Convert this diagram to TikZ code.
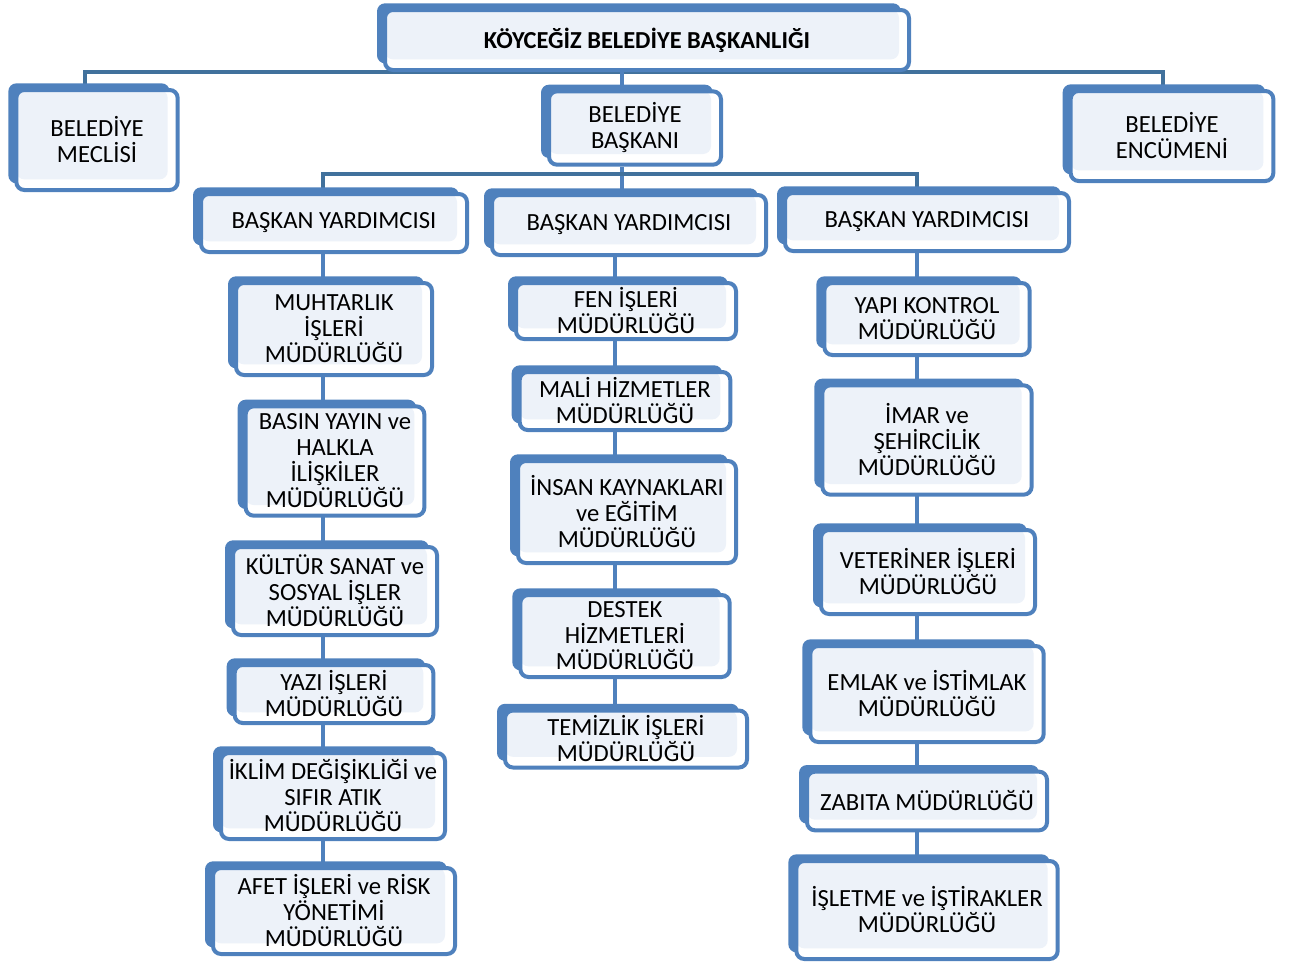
\documentclass[tikz,border=0pt]{standalone}
\usepackage{fontspec}
\setmainfont{Carlito}
\usetikzlibrary{shadows}
\usetikzlibrary{backgrounds}
\definecolor{unitline}{HTML}{4F81BD}
\definecolor{unitfill}{HTML}{EDF2F9}
\definecolor{busline}{HTML}{41719C}
\tikzset{x=0.75pt, y=-0.75pt, % one unit is one pixel of the page
      unit/.style={ % Sets the properties for each unit box
      draw=unitline, line width=3pt, fill=white,
      rounded corners=6pt, align=center, inner sep=1pt,
      font=\fontsize{18.5}{19.5}\selectfont,
      general shadow={shadow xshift=-6pt, shadow yshift=5pt, fill=unitline},
      path picture={\fill[unitfill] ([yshift=8pt]path picture bounding box.south west)
            rectangle ([xshift=-7.5pt]path picture bounding box.north east);}},
      head/.style={unit, font=\fontsize{18.3}{20}\selectfont\bfseries},
      bus/.style={draw=busline, line width=3pt},
      link/.style={draw=unitline, line width=3pt}}

\begin{document}
\begin{tikzpicture}
      \useasboundingbox (0,0) rectangle (1290,964);
      \node[head, minimum width=393pt, minimum height=45pt] (koy) at (647,40) {KÖYCEĞİZ BELEDİYE BAŞKANLIĞI};
      \node[unit, minimum width=121pt, minimum height=75pt] (meclis) at (97,140) {BELEDİYE\\MECLİSİ};
      \node[unit, minimum width=129pt, minimum height=55pt] (baskan) at (635,128) {BELEDİYE\\BAŞKANI};
      \node[unit, minimum width=152pt, minimum height=67.5pt] (encumen) at (1172,136) {BELEDİYE\\ENCÜMENİ};
      \node[unit, minimum width=199.5pt, minimum height=43.5pt] (by1) at (334,223) {BAŞKAN YARDIMCISI};
      \node[unit, minimum width=205.5pt, minimum height=45pt] (by2) at (629,225) {BAŞKAN YARDIMCISI};
      \node[unit, minimum width=213pt, minimum height=43.5pt] (by3) at (927,222) {BAŞKAN YARDIMCISI};
      % left column
      \node[unit, minimum width=147pt, minimum height=69pt] (muh) at (334,329) {MUHTARLIK\\İŞLERİ\\MÜDÜRLÜĞÜ};
      \node[unit, minimum width=134pt, minimum height=82pt] (bas) at (335,461) {BASIN YAYIN ve\\HALKLA\\İLİŞKİLER\\MÜDÜRLÜĞÜ};
      \node[unit, minimum width=153pt, minimum height=66pt] (kul) at (335,591) {KÜLTÜR SANAT ve\\SOSYAL İŞLER\\MÜDÜRLÜĞÜ};
      \node[unit, minimum width=149pt, minimum height=43.5pt] (yaz) at (334,694) {YAZI İŞLERİ\\MÜDÜRLÜĞÜ};
      \node[unit, minimum width=168pt, minimum height=64.5pt] (ikl) at (333,796) {İKLİM DEĞİŞİKLİĞİ ve\\SIFIR ATIK\\MÜDÜRLÜĞÜ};
      \node[unit, minimum width=181.5pt, minimum height=64.5pt] (afe) at (334,911) {AFET İŞLERİ ve RİSK\\YÖNETİMİ\\MÜDÜRLÜĞÜ};
      % middle column
      \node[unit, minimum width=165pt, minimum height=42pt] (fen) at (626,311) {FEN İŞLERİ\\MÜDÜRLÜĞÜ};
      \node[unit, minimum width=158pt, minimum height=43.5pt] (mal) at (625,401) {MALİ HİZMETLER\\MÜDÜRLÜĞÜ};
      \node[unit, minimum width=163.5pt, minimum height=76.5pt] (ins) at (627,512) {İNSAN KAYNAKLARI\\ve EĞİTİM\\MÜDÜRLÜĞÜ};
      \node[unit, minimum width=157pt, minimum height=61.5pt] (des) at (625,636) {DESTEK\\HİZMETLERİ\\MÜDÜRLÜĞÜ};
      \node[unit, minimum width=181.5pt, minimum height=42.75pt] (tem) at (626,739) {TEMİZLİK İŞLERİ\\MÜDÜRLÜĞÜ};
      % right column
      \node[unit, minimum width=154pt, minimum height=54pt] (yap) at (927,319) {YAPI KONTROL\\MÜDÜRLÜĞÜ};
      \node[unit, minimum width=157pt, minimum height=82pt] (ima) at (927,440) {İMAR ve\\ŞEHİRCİLİK\\MÜDÜRLÜĞÜ};
      \node[unit, minimum width=160.5pt, minimum height=63pt] (vet) at (928,572) {VETERİNER İŞLERİ\\MÜDÜRLÜĞÜ};
      \node[unit, minimum width=175pt, minimum height=72pt] (eml) at (927,694) {EMLAK ve İSTİMLAK\\MÜDÜRLÜĞÜ};
      \node[unit, minimum width=180pt, minimum height=44pt] (zab) at (927,801) {ZABITA MÜDÜRLÜĞÜ};
      \node[unit, minimum width=196pt, minimum height=73.5pt] (isl) at (927,910) {İŞLETME ve İŞTİRAKLER\\MÜDÜRLÜĞÜ};
      % connectors behind the boxes
      \coordinate (spine) at (622,0);
      \coordinate (lcol) at (323,0);
      \coordinate (mcol) at (615,0);
      \coordinate (rcol) at (917,0);
      \coordinate (row) at (0,174);
      \begin{scope}[on background layer]
      \draw[bus] ([xshift=-9pt]meclis.north) |- (koy.south) -| ([xshift=-6.75pt]encumen.north);
      \draw[link] (koy.south -| spine) -- (baskan.north -| spine);
      \draw[link] (baskan.south -| spine) -- (by2.north -| spine);
      \draw[bus] (by1.north -| lcol) |- (row -| spine) -| (by3.north -| rcol);
      \draw[link] (by1.south -| lcol) -- (afe.north -| lcol);
      \draw[link] (by2.south -| mcol) -- (tem.north -| mcol);
      \draw[link] (by3.south -| rcol) -- (isl.north -| rcol);
      \end{scope}
\end{tikzpicture}
\end{document}
